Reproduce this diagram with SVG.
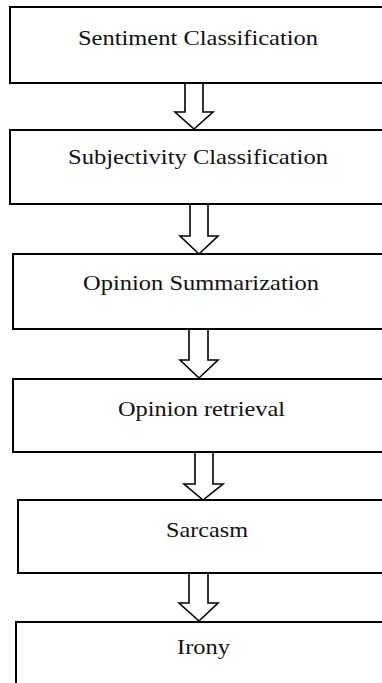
<svg xmlns="http://www.w3.org/2000/svg" width="382" height="683" viewBox="0 0 382 683">
<style>
.box{fill:#fff;stroke:#000;stroke-width:2}
.lbl{font-family:"Liberation Serif","Times New Roman",serif;font-size:21px;fill:#111}
.arr{fill:#fff;stroke:#000;stroke-width:1.6;stroke-linejoin:miter}
</style>
<rect width="382" height="683" fill="#fff"/>
<g id="connectors">
<path class="arr" d="M185,83 V112 H175 L194,129 L213,112 H203 V83"/>
<path class="arr" d="M190,205 V236 H180 L199,254 L218,236 H208 V205"/>
<path class="arr" d="M189,330 V360 H180 L199,378 L218,360 H208 V330"/>
<path class="arr" d="M195,453 V484 H184 L203,500 L223,484 H213 V453"/>
<path class="arr" d="M189,574 V603 H179 L199,621 L218,603 H208 V574"/>
</g>
<g id="n1"><rect class="box" x="10" y="7" width="390" height="76"/><text class="lbl" x="78" y="45" textLength="240" lengthAdjust="spacingAndGlyphs">Sentiment Classification</text></g>
<g id="n2"><rect class="box" x="10" y="130" width="390" height="74"/><text class="lbl" x="68" y="164" textLength="260" lengthAdjust="spacingAndGlyphs">Subjectivity Classification</text></g>
<g id="n3"><rect class="box" x="13" y="254" width="390" height="75"/><text class="lbl" x="83" y="290" textLength="236" lengthAdjust="spacingAndGlyphs">Opinion Summarization</text></g>
<g id="n4"><rect class="box" x="13" y="379" width="390" height="73"/><text class="lbl" x="118" y="416" textLength="167" lengthAdjust="spacingAndGlyphs">Opinion retrieval</text></g>
<g id="n5"><rect class="box" x="18" y="500" width="390" height="73"/><text class="lbl" x="166" y="537" textLength="82" lengthAdjust="spacingAndGlyphs">Sarcasm</text></g>
<g id="n6"><rect class="box" x="16" y="622" width="390" height="80"/><text class="lbl" x="177" y="654" textLength="53" lengthAdjust="spacingAndGlyphs">Irony</text></g>
</svg>
